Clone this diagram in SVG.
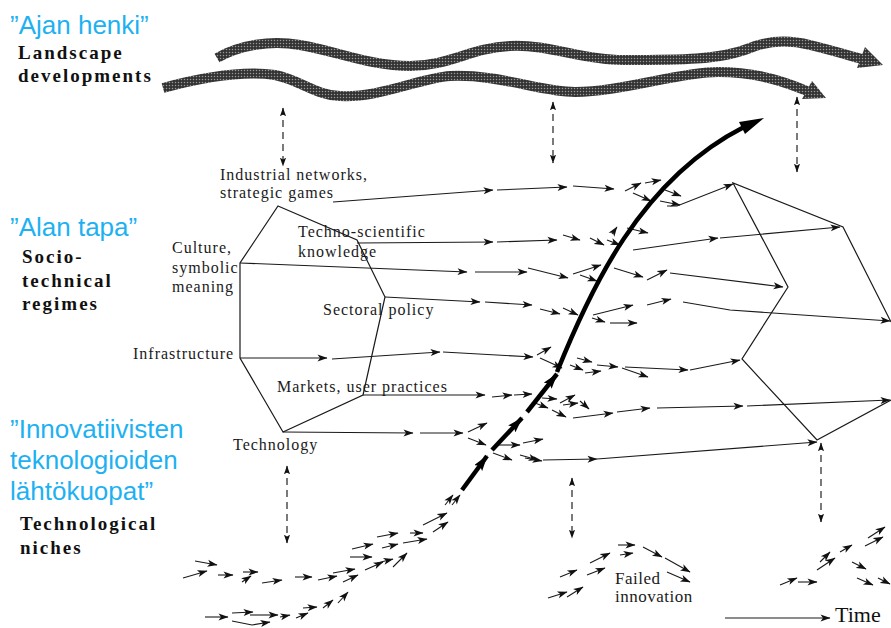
<svg xmlns="http://www.w3.org/2000/svg" width="891" height="628" viewBox="0 0 891 628">
<defs>
<style>
.blue{font-family:"Liberation Sans",Arial,sans-serif;font-size:26px;fill:#1eb1f2}
.lvl{font-family:"Liberation Serif","Times New Roman",serif;font-weight:bold;font-size:19px;letter-spacing:2px;fill:#111}
.lbl{font-family:"Liberation Serif","Times New Roman",serif;font-size:16px;letter-spacing:1px;fill:#1a1a1a}
.hex{fill:none;stroke:#1a1a1a;stroke-width:1.2;stroke-linejoin:miter}
.a{fill:none;stroke:#1a1a1a;stroke-width:1.1;marker-end:url(#ah)}
.d{fill:none;stroke:#222;stroke-width:1.2;stroke-dasharray:7 5;marker-start:url(#dh);marker-end:url(#dh)}
.band{fill:none;stroke:url(#tex);stroke-width:10;stroke-linecap:butt}
.big{fill:none;stroke:#000;stroke-width:4.5;stroke-linecap:butt}
.bigd{fill:none;stroke:#000;stroke-width:4.5;marker-end:url(#bh)}
</style>
<pattern id="tex" width="3" height="3" patternUnits="userSpaceOnUse">
<rect width="3" height="3" fill="#333"/>
<circle cx="1.5" cy="1.5" r="0.75" fill="#9a9a9a"/>
</pattern>
<marker id="ah" viewBox="0 0 10 8" refX="9.5" refY="4" markerWidth="11" markerHeight="8" markerUnits="userSpaceOnUse" orient="auto">
<path d="M0,0.5 L10,4 L0,7.5 L2.5,4 z" fill="#111"/>
</marker>
<marker id="dh" viewBox="0 0 10 8" refX="9.5" refY="4" markerWidth="9" markerHeight="7" markerUnits="userSpaceOnUse" orient="auto-start-reverse">
<path d="M0,0.5 L10,4 L0,7.5 L2,4 z" fill="#111"/>
</marker>
<marker id="bh" viewBox="0 0 16 10" refX="15" refY="5" markerWidth="16" markerHeight="10" markerUnits="userSpaceOnUse" orient="auto">
<path d="M0,0 L16,5 L0,10 L3,5 z" fill="#000"/>
</marker>
</defs>
<rect width="891" height="628" fill="#fff"/>

<g id="level-labels">
<text class="blue" x="10" y="34">”Ajan henki”</text>
<text class="lvl" x="18" y="59">Landscape</text>
<text class="lvl" x="18" y="82">developments</text>
<text class="blue" x="10" y="236">”Alan tapa”</text>
<text class="lvl" x="22" y="263">Socio-</text>
<text class="lvl" x="22" y="287">technical</text>
<text class="lvl" x="22" y="310">regimes</text>
<text class="blue" x="10" y="438">”Innovatiivisten</text>
<text class="blue" x="10" y="469">teknologioiden</text>
<text class="blue" x="10" y="500">lähtökuopat”</text>
<text class="lvl" x="20" y="530">Technological</text>
<text class="lvl" x="20" y="554">niches</text>
</g>

<g id="landscape">
<path class="band" d="M217,58 C240,45 270,40 300,45 C340,52 370,66 410,66 C450,66 470,48 510,46 C550,44 580,60 623,60 C680,60 720,60 750,48 C770,40 790,40 810,45 C835,51 850,56 862,59"/>
<polygon points="865,47 883,65 857,68" fill="url(#tex)"/>
<path class="band" d="M163,88 C200,78 240,70 275,75 C300,80 315,95 340,96 C380,98 420,78 450,76 C500,74 540,92 575,92 C620,92 680,72 718,72 C760,72 790,84 807,91"/>
<polygon points="812,81 826,98 802,99" fill="url(#tex)"/>
</g>

<g id="regime-t1">
<polygon class="hex" points="278,206 357,240 385,297 363,395 283,432 240,358 240,263"/>
<text class="lbl" x="220" y="180">Industrial networks,</text>
<text class="lbl" x="220" y="198">strategic games</text>
<text class="lbl" x="298" y="237">Techno-scientific</text>
<text class="lbl" x="298" y="257">knowledge</text>
<text class="lbl" x="172" y="253">Culture,</text>
<text class="lbl" x="172" y="273">symbolic</text>
<text class="lbl" x="172" y="292">meaning</text>
<text class="lbl" x="323" y="315">Sectoral policy</text>
<text class="lbl" x="133" y="359">Infrastructure</text>
<text class="lbl" x="277" y="392">Markets, user practices</text>
<text class="lbl" x="233" y="450">Technology</text>
</g>

<g id="regime-t3">
<polyline class="hex" points="891,322 843,227 733,183 788,287 742,359 817,440 891,400"/>
</g>

<g id="failed">
<text class="lbl" x="615" y="584" style="font-size:17px;letter-spacing:0.5px">Failed</text>
<text class="lbl" x="615" y="602" style="font-size:17px;letter-spacing:0.5px">innovation</text>
</g>

<g id="time">
<path class="a" d="M725,618 L830,618"/>
<text x="835" y="622" style="font-family:'Liberation Serif','Times New Roman',serif;font-size:22px;fill:#111">Time</text>
</g>

<g id="connectors">
<path class="d" d="M283,108 L283,166"/>
<path class="d" d="M553,102 L553,163"/>
<path class="d" d="M797,97 L797,172"/>
<path class="d" d="M287,466 L287,543"/>
<path class="d" d="M572,478 L572,538"/>
<path class="d" d="M821,443 L821,522"/>

<path class="a" d="M333,202 L493,190"/>
<path class="a" d="M497,190 L567,187"/>
<path class="a" d="M573,186 L614,189"/>
<path class="a" d="M625,191 L641,183"/>
<path class="a" d="M645,183 L661,180"/>
<path class="a" d="M665,190 L681,196"/>
<path class="a" d="M633,193 L651,201"/>
<path class="a" d="M660,201 L680,205"/>
<path class="a" d="M667,206 L677,206 L733,184"/>

<path class="a" d="M357,243 L493,242"/>
<path class="a" d="M497,242 L557,240"/>
<path class="a" d="M563,235 L580,240"/>
<path class="a" d="M590,238 L604,245"/>
<path class="a" d="M607,240 L620,245"/>
<path class="a" d="M612,234 L617,227"/>
<path class="a" d="M627,228 L648,233"/>
<path class="a" d="M633,250 L718,238"/>
<path class="a" d="M720,238 L840,227"/>

<path class="a" d="M240,263 L467,272"/>
<path class="a" d="M475,272 L527,272"/>
<path class="a" d="M528,268 L568,278"/>
<path class="a" d="M573,274 L601,265"/>
<path class="a" d="M580,275 L597,281"/>
<path class="a" d="M614,268 L643,277"/>
<path class="a" d="M647,280 L667,270"/>
<path class="a" d="M670,273 L783,287"/>

<path class="a" d="M385,297 L480,302"/>
<path class="a" d="M485,302 L532,305"/>
<path class="a" d="M540,309 L560,314"/>
<path class="a" d="M563,308 L578,315"/>
<path class="a" d="M593,315 L633,305"/>
<path class="a" d="M592,318 L605,322"/>
<path class="a" d="M610,323 L637,323"/>
<path class="a" d="M647,305 L671,299"/>
<path class="a" d="M683,302 L730,310 L890,321"/>

<path class="a" d="M240,358 L327,358"/>
<path class="a" d="M332,359 L440,352"/>
<path class="a" d="M443,352 L533,357"/>
<path class="a" d="M537,355 L551,347"/>
<path class="a" d="M540,358 L562,368"/>
<path class="a" d="M577,358 L592,362"/>
<path class="a" d="M570,365 L583,370"/>
<path class="a" d="M597,365 L618,367"/>
<path class="a" d="M585,373 L601,371"/>
<path class="a" d="M622,368 L648,377"/>
<path class="a" d="M625,367 L688,370"/>
<path class="a" d="M690,370 L740,360"/>

<path class="a" d="M363,395 L485,395"/>
<path class="a" d="M492,397 L512,395"/>
<path class="a" d="M514,395 L532,394"/>
<path class="a" d="M542,398 L557,399"/>
<path class="a" d="M535,403 L548,408"/>
<path class="a" d="M560,403 L575,395"/>
<path class="a" d="M563,405 L578,403"/>
<path class="a" d="M580,401 L589,409"/>
<path class="a" d="M552,410 L566,417"/>
<path class="a" d="M573,418 L613,413"/>
<path class="a" d="M617,412 L650,408"/>
<path class="a" d="M657,408 L743,406"/>
<path class="a" d="M747,406 L890,400"/>

<path class="a" d="M283,432 L413,433"/>
<path class="a" d="M420,433 L463,433"/>
<path class="a" d="M468,432 L487,423"/>
<path class="a" d="M468,438 L486,445"/>
<path class="a" d="M498,445 L520,445"/>
<path class="a" d="M523,443 L543,439"/>
<path class="a" d="M493,453 L512,460"/>
<path class="a" d="M520,455 L538,460"/>
<path class="a" d="M525,458 L542,461"/>
<path class="a" d="M543,460 L597,459"/>
<path class="a" d="M597,459 L817,442"/>

<path class="a" d="M183,578 L207,571"/>
<path class="a" d="M195,561 L217,565"/>
<path class="a" d="M218,575 L233,575"/>
<path class="a" d="M243,572 L258,572"/>
<path class="a" d="M242,582 L251,576"/>
<path class="a" d="M262,583 L282,580"/>
<path class="a" d="M295,577 L312,577"/>
<path class="a" d="M318,580 L337,576"/>
<path class="a" d="M333,573 L355,569"/>
<path class="a" d="M343,582 L358,575"/>
<path class="a" d="M352,549 L373,544"/>
<path class="a" d="M350,557 L372,557"/>
<path class="a" d="M365,570 L383,562"/>
<path class="a" d="M377,563 L393,559"/>
<path class="a" d="M393,567 L407,553"/>
<path class="a" d="M377,537 L398,533"/>
<path class="a" d="M382,548 L398,544"/>
<path class="a" d="M403,543 L427,539"/>
<path class="a" d="M410,533 L423,533"/>
<path class="a" d="M423,525 L447,513"/>
<path class="a" d="M433,532 L448,522"/>
<path class="a" d="M445,505 L453,495"/>
<path class="a" d="M452,505 L460,495"/>
<path class="a" d="M205,617 L228,617"/>
<path class="a" d="M232,613 L253,612"/>
<path class="a" d="M250,615 L278,615"/>
<path class="a" d="M232,621 L252,625 L270,622"/>
<path class="a" d="M280,617 L290,615"/>
<path class="a" d="M296,618 L308,613"/>
<path class="a" d="M303,608 L317,607"/>
<path class="a" d="M323,608 L333,600"/>
<path class="a" d="M338,603 L348,592"/>

<path class="a" d="M548,598 L567,592"/>
<path class="a" d="M560,577 L577,570"/>
<path class="a" d="M567,597 L583,587"/>
<path class="a" d="M587,575 L605,568"/>
<path class="a" d="M590,563 L610,553"/>
<path class="a" d="M618,545 L635,545"/>
<path class="a" d="M620,555 L633,553"/>
<path class="a" d="M643,547 L662,557"/>
<path class="a" d="M665,558 L690,572"/>
<path class="a" d="M667,572 L690,582"/>

<path class="a" d="M780,585 L797,578"/>
<path class="a" d="M798,582 L817,582"/>
<path class="a" d="M817,570 L835,558"/>
<path class="a" d="M820,562 L830,552"/>
<path class="a" d="M840,552 L852,545"/>
<path class="a" d="M868,538 L885,527"/>
<path class="a" d="M865,546 L883,537"/>
<path class="a" d="M852,562 L866,569"/>
<path class="a" d="M857,578 L873,585"/>
<path class="a" d="M878,578 L890,584"/>

<path class="bigd" d="M462,490 L487,456"/>
<path class="bigd" d="M492,450 L522,418"/>
<path class="bigd" d="M527,412 L557,374"/>
<path class="big" d="M557,372 C590,290 640,180 744,127"/>
<polygon points="745,134 764,118 739,122" fill="#000"/>
</g>
</svg>
